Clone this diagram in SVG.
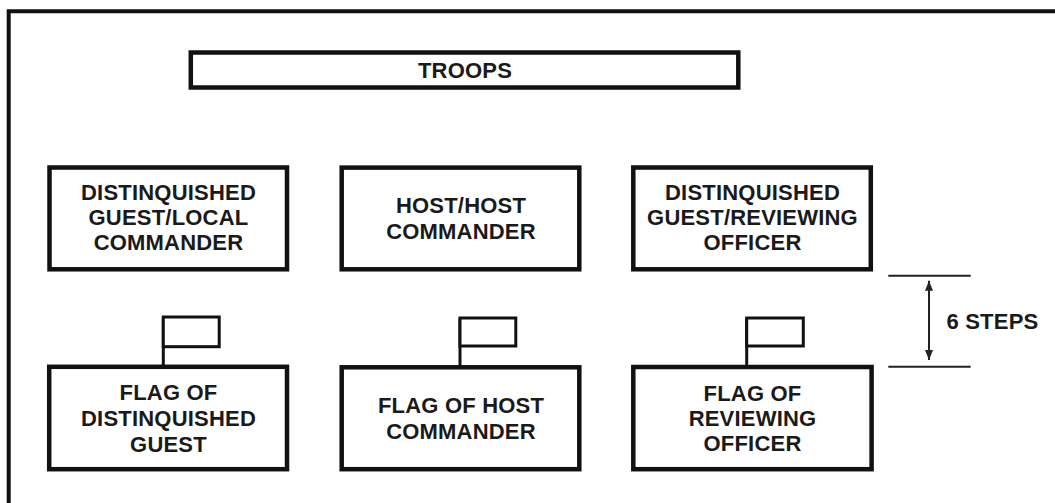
<svg xmlns="http://www.w3.org/2000/svg" width="1055" height="503" viewBox="0 0 1055 503">
<defs>
<style>
.box{fill:#fff;stroke:#111;stroke-width:4.5}
.flag{fill:#fff;stroke:#111;stroke-width:3}
.pole{stroke:#111;stroke-width:3;fill:none}
.frame{fill:none;stroke:#111;stroke-width:4}
.dim{stroke:#222;stroke-width:2;fill:none}
text{font-family:"Liberation Sans",Arial,Helvetica,sans-serif;font-weight:bold;font-size:22px;letter-spacing:0.2px;fill:#1a1a1a;text-anchor:middle}
</style>
<marker id="ah" viewBox="0 0 10 8" refX="10" refY="4" markerWidth="10" markerHeight="8" markerUnits="userSpaceOnUse" orient="auto-start-reverse">
<path d="M0,0 L10,4 L0,8 z" fill="#222"/>
</marker>
</defs>
<rect width="1055" height="503" fill="#fff"/>
<path class="frame" d="M8.7,503 V11.3 H1055"/>

<g id="troops">
<rect class="box" x="190.8" y="52.5" width="547.5" height="35"/>
<text x="465" y="77.5">TROOPS</text>
</g>

<g id="dg-local-commander">
<rect class="box" x="49.5" y="167.5" width="237.5" height="101.8"/>
<text x="168.5" y="199.5">DISTINQUISHED</text>
<text x="168.5" y="224.8">GUEST/LOCAL</text>
<text x="168.5" y="250.1">COMMANDER</text>
</g>

<g id="host-commander">
<rect class="box" x="341.7" y="167.6" width="237.6" height="101.7"/>
<text x="461" y="213.3">HOST/HOST</text>
<text x="461" y="239">COMMANDER</text>
</g>

<g id="dg-reviewing-officer">
<rect class="box" x="633.3" y="167.5" width="237.5" height="101.8"/>
<text x="752.5" y="199.8">DISTINQUISHED</text>
<text x="752.5" y="225.1">GUEST/REVIEWING</text>
<text x="752.5" y="250.4">OFFICER</text>
</g>

<g id="flag-dg">
<path class="pole" d="M163.3,366.8 V317"/>
<rect class="flag" x="163.3" y="317" width="55.9" height="29.7"/>
<rect class="box" x="49.2" y="366.8" width="237.8" height="102.4"/>
<text x="168.5" y="400">FLAG OF</text>
<text x="168.5" y="425.8">DISTINQUISHED</text>
<text x="168.5" y="451.6">GUEST</text>
</g>

<g id="flag-host">
<path class="pole" d="M460,367.5 V318"/>
<rect class="flag" x="460" y="318" width="55.8" height="28"/>
<rect class="box" x="341.7" y="367.3" width="237.6" height="101.9"/>
<text x="461" y="413.3">FLAG OF HOST</text>
<text x="461" y="439.2">COMMANDER</text>
</g>

<g id="flag-reviewing">
<path class="pole" d="M746.7,367 V318"/>
<rect class="flag" x="746.7" y="318" width="56.6" height="28"/>
<rect class="box" x="633.3" y="367" width="238.3" height="102.2"/>
<text x="752.5" y="400.6">FLAG OF</text>
<text x="752.5" y="425.8">REVIEWING</text>
<text x="752.5" y="451">OFFICER</text>
</g>

<g id="connectors">
<line class="dim" x1="888.3" y1="275.7" x2="970.7" y2="275.7"/>
<line class="dim" x1="888.3" y1="366.7" x2="970.7" y2="366.7"/>
<line class="dim" x1="929" y1="280.7" x2="929" y2="360" marker-start="url(#ah)" marker-end="url(#ah)"/>
</g>

<g id="six-steps">
<text x="946.5" y="329" style="text-anchor:start">6 STEPS</text>
</g>
</svg>
